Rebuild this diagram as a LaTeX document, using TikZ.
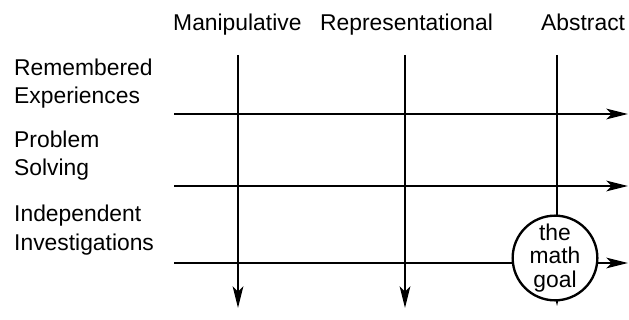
\documentclass[tikz,border=0pt]{standalone}
\usepackage{fontspec}
\setmainfont{Liberation Sans}
\usepackage{tikz}
\usetikzlibrary{arrows.meta}

\tikzset{
  lbl/.style={font=\fontsize{19.5}{24.5}\selectfont, inner sep=0pt, align=left},
  axis/.style={line width=1.5pt, -{Stealth[length=6.5mm, width=3.2mm, inset=1.6mm]}},
}

\begin{document}
\begin{tikzpicture}[x=0.3mm, y=-0.3mm]
  \useasboundingbox (0,0) rectangle (629,320);
  % stages
  \node[lbl, anchor=base west] (manip) at (173,31) {Manipulative};
  \node[lbl, anchor=base west] (repr) at (320,31) {Representational};
  \node[lbl, anchor=base west] (abstr) at (541,31) {Abstract};
  % activities (base = last line)
  \node[lbl, anchor=base west] (remem) at (14,104) {Remembered\\Experiences};
  \node[lbl, anchor=base west] (probl) at (14,176) {Problem\\Solving};
  \node[lbl, anchor=base west] (indep) at (14,250) {Independent\\Investigations};
  % grid
  \coordinate (r1a) at (174,114); \coordinate (r1b) at (628,114);
  \coordinate (r2a) at (174,186); \coordinate (r2b) at (628,186);
  \coordinate (r3a) at (174,263); \coordinate (r3b) at (628,263);
  \coordinate (c1a) at (238,55); \coordinate (c1b) at (238,308);
  \coordinate (c2a) at (405,55); \coordinate (c2b) at (405,308);
  \coordinate (c3a) at (557,55); \coordinate (c3b) at (557,306);
  \draw[axis] (r1a) -- (r1b);
  \draw[axis] (r2a) -- (r2b);
  \draw[axis] (r3a) -- (r3b);
  \draw[axis] (c1a) -- (c1b);
  \draw[axis] (c2a) -- (c2b);
  \draw[axis] (c3a) -- (c3b);
  % goal
  \node[circle, draw, fill=white, line width=2pt, minimum size=74*0.3mm, inner sep=0pt,
        align=center, font=\fontsize{19.5}{20}\selectfont] (goal) at (555,258) {the\\math\\goal};
\end{tikzpicture}
\end{document}
